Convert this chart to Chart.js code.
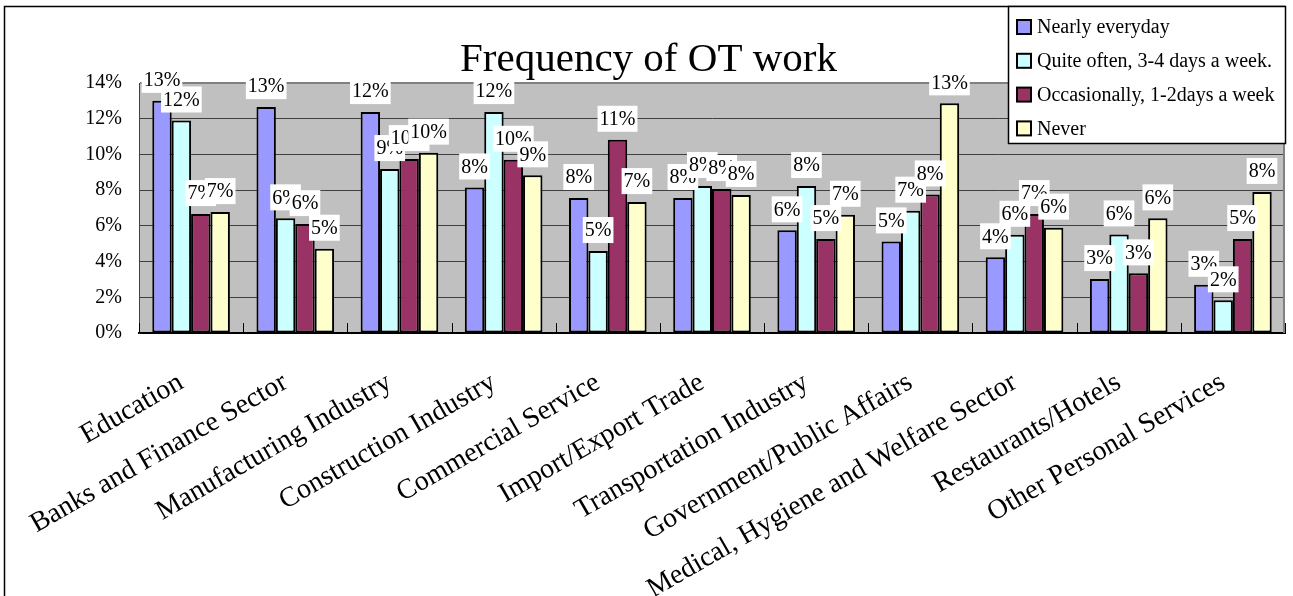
<!DOCTYPE html>
<html><head><meta charset="utf-8">
<script src="https://cdn.jsdelivr.net/npm/chart.js@4/dist/chart.umd.min.js"></script>
<style>html,body{margin:0;padding:0;background:#fff;}#wrap{width:1293px;height:596px;position:relative;}canvas{display:block;}</style>
</head><body><div id="wrap"><canvas id="c" width="1293" height="596"></canvas></div>
<script>
const categories = ["Education","Banks and Finance Sector","Manufacturing Industry","Construction Industry","Commercial Service","Import/Export Trade","Transportation Industry","Government/Public Affairs","Medical, Hygiene and Welfare Sector","Restaurants/Hotels","Other Personal Services"];
const seriesNames = ["Nearly everyday","Quite often, 3-4 days a week.","Occasionally, 1-2days a week","Never"];
const nearlyEveryday = [13.0, 12.65, 12.37, 8.15, 7.56, 7.56, 5.75, 5.13, 4.24, 3.02, 2.70];
const quiteOften     = [11.9, 6.42, 9.18, 12.37, 4.59, 8.23, 8.23, 6.85, 5.50, 5.52, 1.83];
const occasionally   = [6.66, 6.10, 9.74, 9.70, 10.82, 8.06, 5.26, 7.76, 6.66, 3.34, 5.26];
const never          = [6.77, 4.72, 10.1, 8.83, 7.33, 7.73, 6.62, 12.86, 5.90, 6.42, 7.90];
const seriesColors = ["#9999ff","#ccffff","#993366","#ffffcc"];
const yMin = 0, yMax = 14, yStep = 2;
const titleText = "Frequency of OT work";

const SERIF = '"Liberation Serif", "Times New Roman", serif';

const bgPlugin = {
  id: 'bg',
  beforeDraw(chart) {
    const {ctx, chartArea: a} = chart;
    ctx.save();
    ctx.fillStyle = '#c0c0c0';
    ctx.fillRect(a.left, a.top, a.right - a.left, a.bottom - a.top);
    ctx.restore();
  }
};

const decoPlugin = {
  id: 'deco',
  afterDatasetsDraw(chart) {
    const {ctx, chartArea: a} = chart;
    const xs = chart.scales.x;
    ctx.save();
    ctx.strokeStyle = '#808080'; ctx.lineWidth = 2;
    ctx.beginPath(); ctx.moveTo(a.right - 1, a.top); ctx.lineTo(a.right - 1, a.bottom); ctx.stroke();
    const n = categories.length;
    ctx.strokeStyle = '#000'; ctx.lineWidth = 1;
    for (let i = 0; i <= n; i++) {
      const px = Math.round(xs.left + i * (xs.right - xs.left) / n) + 0.5;
      ctx.beginPath(); ctx.moveTo(px, a.bottom); ctx.lineTo(px, a.bottom - 10); ctx.stroke();
    }
    ctx.font = '20px ' + SERIF;
    ctx.textAlign = 'center'; ctx.textBaseline = 'middle';
    chart.data.datasets.forEach((ds, i) => {
      const meta = chart.getDatasetMeta(i);
      meta.data.forEach((bar, j) => {
        const txt = Math.round(ds.data[j]) + '%';
        const w = ctx.measureText(txt).width + 4;
        const h = 26;
        const cy = bar.y - 8 - h / 2;
        ctx.fillStyle = '#fff';
        ctx.fillRect(bar.x - w / 2, cy - h / 2, w, h);
        ctx.fillStyle = '#000';
        ctx.fillText(txt, bar.x, cy + 1);
      });
    });
    ctx.restore();
  },
  afterDraw(chart) {
    const {ctx} = chart;
    ctx.save();
    ctx.strokeStyle = '#000'; ctx.lineWidth = 1.5;
    ctx.beginPath(); ctx.moveTo(4.5, 596); ctx.lineTo(4.5, 6.5); ctx.lineTo(1285, 6.5); ctx.stroke();
    const lx = 1008, ly = 6, lw = 277, lh = 137;
    ctx.fillStyle = '#fff'; ctx.fillRect(lx, ly, lw, lh);
    ctx.strokeStyle = '#000'; ctx.lineWidth = 1.5;
    ctx.strokeRect(lx + 0.5, ly + 0.5, lw, lh);
    ctx.font = '20px ' + SERIF; ctx.textAlign = 'left'; ctx.textBaseline = 'middle';
    chart.data.datasets.forEach((ds, i) => {
      const cy = 27 + i * 33.8;
      ctx.fillStyle = ds.backgroundColor;
      ctx.fillRect(1017, cy - 7, 14, 14);
      ctx.lineWidth = 2; ctx.strokeStyle = '#000';
      ctx.strokeRect(1017, cy - 7, 14, 14);
      ctx.fillStyle = '#000';
      ctx.fillText(ds.label, 1037, cy + 1);
    });
    ctx.restore();
  }
};

const seriesData = [nearlyEveryday, quiteOften, occasionally, never];
new Chart(document.getElementById('c'), {
  type: 'bar',
  data: {
    labels: categories,
    datasets: seriesNames.map((name, i) => ({
      label: name,
      data: seriesData[i],
      backgroundColor: seriesColors[i],
      borderColor: '#000',
      borderWidth: 2,
      borderSkipped: false,
      barPercentage: 1,
      categoryPercentage: 0.745
    }))
  },
  options: {
    responsive: false,
    animation: false,
    layout: { padding: { left: 12, right: 8, top: 0, bottom: 0 } },
    plugins: {
      legend: { display: false },
      tooltip: { enabled: false },
      title: {
        display: true, text: titleText, color: '#000',
        font: { family: SERIF, size: 41, weight: 'normal', lineHeight: 1 },
        padding: { top: 40, bottom: 2 }
      }
    },
    scales: {
      x: {
        offset: true,
        grid: { display: false, drawTicks: false },
        border: { display: true, color: '#000', width: 2 },
        ticks: { autoSkip: false, maxRotation: 30, minRotation: 30, color: '#000',
                 font: { family: SERIF, size: 28 }, padding: 33, labelOffset: -10 },
        afterFit(s) { s.height = 596 - 333; }
      },
      y: {
        min: yMin, max: yMax,
        grid: { color: c => c.tick && c.tick.value === yMax ? '#808080' : '#404040',
                lineWidth: c => c.tick && c.tick.value === yMax ? 2 : 1, drawTicks: false },
        border: { display: true, color: '#404040', width: 1 },
        ticks: { stepSize: yStep, color: '#000', padding: 17, font: { family: SERIF, size: 20 },
                 callback: v => v + '%' },
        afterFit(s) { s.width = 127; }
      }
    }
  },
  plugins: [bgPlugin, decoPlugin]
});
</script></body></html>
